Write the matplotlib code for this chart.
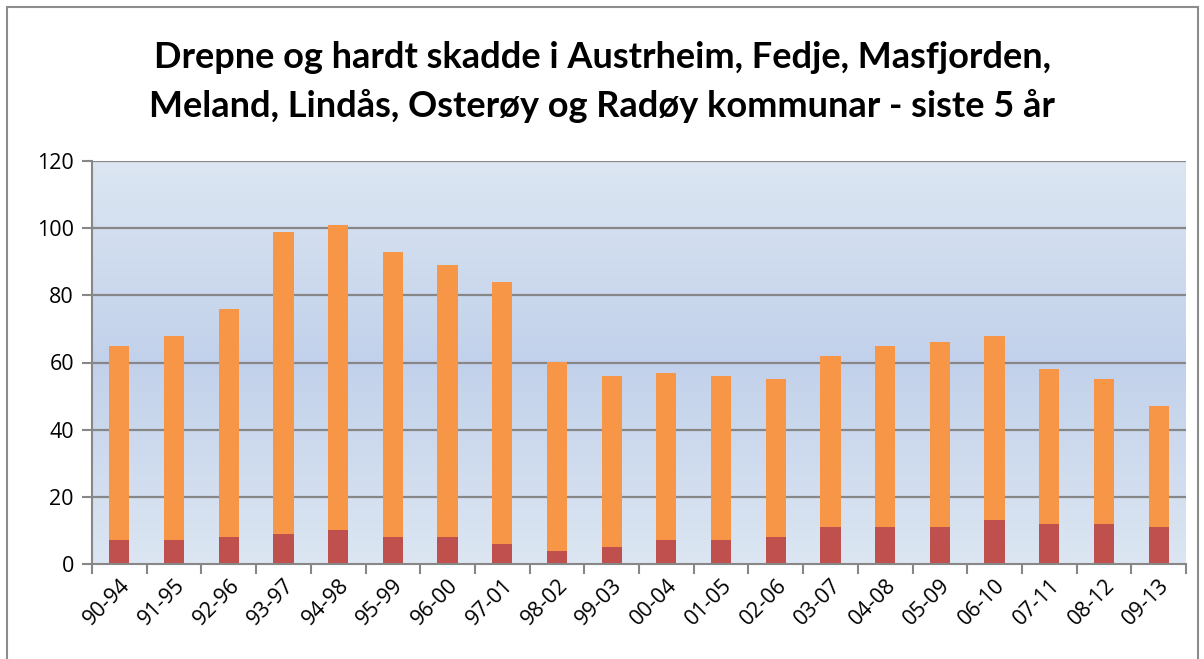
import matplotlib
matplotlib.use("Agg")
import matplotlib.pyplot as plt
import numpy as np
from matplotlib.patches import Rectangle

categories = ["90-94", "91-95", "92-96", "93-97", "94-98", "95-99", "96-00", "97-01",
              "98-02", "99-03", "00-04", "01-05", "02-06", "03-07", "04-08", "05-09",
              "06-10", "07-11", "08-12", "09-13"]
drepne = [7, 7, 8, 9, 10, 8, 8, 6, 4, 5, 7, 7, 8, 11, 11, 11, 13, 12, 12, 11]
totals = [65, 68, 76, 99, 101, 93, 89, 84, 60, 56, 57, 56, 55, 62, 65, 66, 68, 58, 55, 47]
hardt = [t - d for t, d in zip(totals, drepne)]
yticks = [0, 20, 40, 60, 80, 100, 120]
title = "Drepne og hardt skadde i Austrheim, Fedje, Masfjorden,\nMeland, Lindås, Osterøy og Radøy kommunar - siste 5 år"

W, H = 1204, 659
fig = plt.figure(figsize=(W / 100, H / 100), dpi=100)
fig.patch.set_facecolor("white")
fig.patches.append(Rectangle((7 / W, -0.01), (1198 - 7) / W, (H - 7) / H + 0.01,
                             transform=fig.transFigure, fill=False,
                             edgecolor="#8c8c8c", linewidth=1.5))

ax = fig.add_axes([92 / W, (H - 564) / H, (1186 - 92) / W, (564 - 161) / H])
n = len(categories)
x = np.arange(n)

# background gradient
grad = np.concatenate([np.linspace(0, 1, 50), np.linspace(1, 0, 50)])
top = np.array([0xDC, 0xE6, 0xF2]) / 255
mid = np.array([0xC2, 0xD1, 0xEB]) / 255
img = top[None, :] + grad[:, None] * (mid - top)[None, :]
img = img[:, None, :]
ax.imshow(img, extent=[-0.5, n - 0.5, 0, 120], aspect="auto", zorder=0, origin="upper")

for yv in yticks[1:]:
    ax.axhline(yv, color="#878787", linewidth=1.6, zorder=1)

bw = 0.37
ax.bar(x, drepne, width=bw, color="#C0504D", zorder=2)
ax.bar(x, hardt, bottom=drepne, width=bw, color="#F79646", zorder=2)

ax.set_xlim(-0.5, n - 0.5)
ax.set_ylim(0, 120)
ax.set_yticks(yticks)
ax.set_yticklabels([str(v) for v in yticks], fontsize=15.5, family="Open Sans")
ax.set_xticks(x)
ax.set_xticklabels(categories, rotation=45, ha="right", rotation_mode="anchor",
                   fontsize=15.5, family="Open Sans")
ax.tick_params(axis="x", length=0, pad=8)
ax.set_xticks(np.arange(-0.5, n, 1), minor=True)
ax.tick_params(axis="x", which="minor", length=7, width=1.5, color="#878787")
ax.tick_params(axis="y", length=7, width=1.5, color="#878787", pad=6)
for s in ["top", "right"]:
    ax.spines[s].set_visible(False)
for s in ["left", "bottom"]:
    ax.spines[s].set_color("#878787")
    ax.spines[s].set_linewidth(1.5)

fig.text(0.5, 1 - 82 / H, title, ha="center", va="center", fontsize=26,
         fontweight="bold", family="Lato", linespacing=1.55)

fig.savefig("out.png", dpi=100)
